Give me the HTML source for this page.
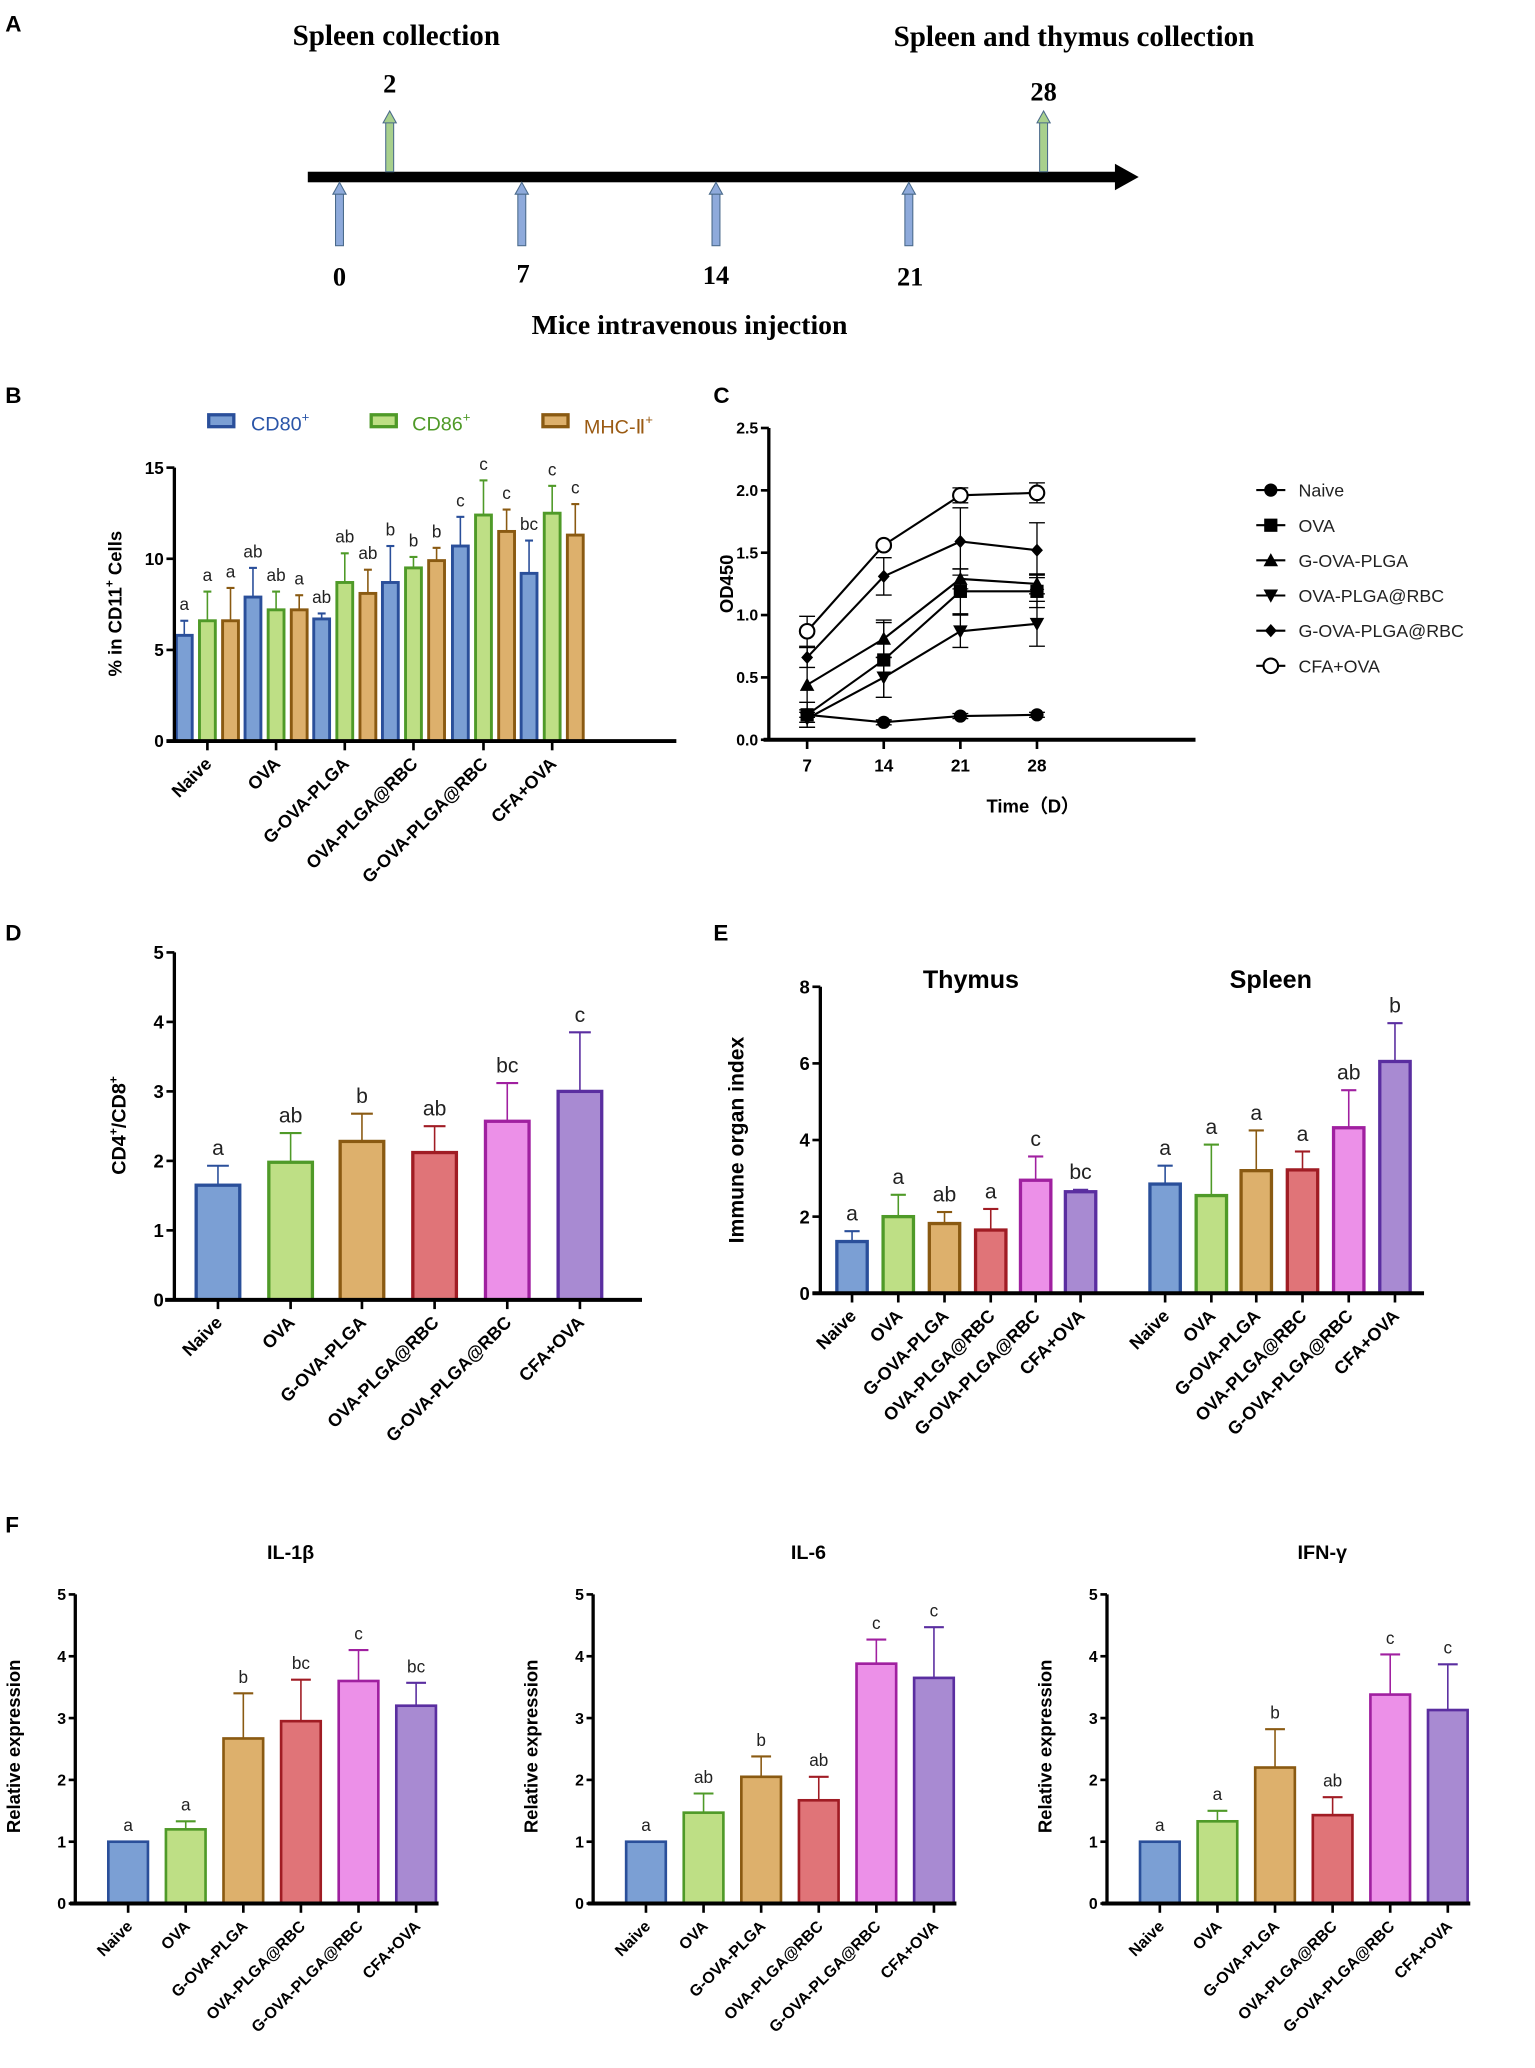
<!DOCTYPE html>
<html><head><meta charset="utf-8">
<style>
html,body{margin:0;padding:0;background:#fff;}
svg{display:block;}
text{font-family:"Liberation Sans",sans-serif;}
.serif{font-family:"Liberation Serif",serif;font-weight:bold;}
</style></head>
<body>
<svg id="fig" xmlns="http://www.w3.org/2000/svg" width="1535" height="2068" viewBox="0 0 1162 1565.5" preserveAspectRatio="none">
<g>
<text x="4" y="24" font-size="17" font-weight="bold">A</text>
<text class="serif" x="300" y="34" font-size="22" text-anchor="middle">Spleen collection</text>
<text class="serif" x="813" y="35" font-size="22" text-anchor="middle">Spleen and thymus collection</text>
<rect x="233" y="130" width="615" height="8" fill="#000"/>
<polygon points="844,124 862,134 844,144" fill="#000"/>
<g><rect x="292" y="92" width="6" height="38" fill="#a8d08d" stroke="#4a6a8a" stroke-width="0.8"/><polygon points="290,93 295,84 300,93" fill="#a8d08d" stroke="#4a6a8a" stroke-width="0.8"/></g>
<text class="serif" x="295" y="70" font-size="20" text-anchor="middle" font-weight="normal">2</text>
<g><rect x="787" y="92" width="6" height="38" fill="#a8d08d" stroke="#4a6a8a" stroke-width="0.8"/><polygon points="785,93 790,84 795,93" fill="#a8d08d" stroke="#4a6a8a" stroke-width="0.8"/></g>
<text class="serif" x="790" y="76" font-size="20" text-anchor="middle">28</text>
<g><rect x="254" y="146" width="6" height="40" fill="#8eaadb" stroke="#4a6a8a" stroke-width="0.8"/><polygon points="252,147 257,138 262,147" fill="#8eaadb" stroke="#4a6a8a" stroke-width="0.8"/></g>
<g><rect x="392" y="146" width="6" height="40" fill="#8eaadb" stroke="#4a6a8a" stroke-width="0.8"/><polygon points="390,147 395,138 400,147" fill="#8eaadb" stroke="#4a6a8a" stroke-width="0.8"/></g>
<g><rect x="539" y="146" width="6" height="40" fill="#8eaadb" stroke="#4a6a8a" stroke-width="0.8"/><polygon points="537,147 542,138 547,147" fill="#8eaadb" stroke="#4a6a8a" stroke-width="0.8"/></g>
<g><rect x="685" y="146" width="6" height="40" fill="#8eaadb" stroke="#4a6a8a" stroke-width="0.8"/><polygon points="683,147 688,138 693,147" fill="#8eaadb" stroke="#4a6a8a" stroke-width="0.8"/></g>
<text class="serif" x="257" y="216" font-size="20" text-anchor="middle">0</text>
<text class="serif" x="396" y="214" font-size="20" text-anchor="middle">7</text>
<text class="serif" x="542" y="215" font-size="20" text-anchor="middle">14</text>
<text class="serif" x="689" y="216" font-size="20" text-anchor="middle">21</text>
<text class="serif" x="522" y="253" font-size="21" text-anchor="middle">Mice intravenous injection</text>
</g>
<text x="4" y="305" font-size="17" font-weight="bold">B</text>
<text x="540" y="305" font-size="17" font-weight="bold">C</text>
<text x="4" y="712" font-size="17" font-weight="bold">D</text>
<text x="540" y="712" font-size="17" font-weight="bold">E</text>
<text x="4" y="1160" font-size="17" font-weight="bold">F</text>
<g>
<rect x="158" y="314" width="19" height="9" fill="#7b9fd4" stroke="#2a4f9a" stroke-width="2.5"/>
<text x="190" y="326" font-size="15" fill="#2a55a8">CD80<tspan font-size="10" dy="-7">+</tspan></text>
<rect x="281" y="314" width="19" height="9" fill="#bedf85" stroke="#4f9a28" stroke-width="2.5"/>
<text x="312" y="326" font-size="15" fill="#4f9a28">CD86<tspan font-size="10" dy="-7">+</tspan></text>
<rect x="411" y="314" width="19" height="9" fill="#ddb06c" stroke="#8a5a12" stroke-width="2.5"/>
<text x="442" y="328" font-size="15" fill="#9a5a12">MHC-Ⅱ<tspan font-size="10" dy="-7">+</tspan></text>
</g>
</svg>
<script>
// ---- Data ----
const groups = ["Naive","OVA","G-OVA-PLGA","OVA-PLGA@RBC","G-OVA-PLGA@RBC","CFA+OVA"];
const bCD80 = [5.8,7.9,6.7,8.7,10.7,9.2];
const bCD80Err = [0.8,1.6,0.3,2.0,1.6,1.8];
const bCD80Let = ["a","ab","ab","b","c","bc"];
const bCD86 = [6.6,7.2,8.7,9.5,12.4,12.5];
const bCD86Err = [1.6,1.0,1.6,0.6,1.9,1.5];
const bCD86Let = ["a","ab","ab","b","c","c"];
const bMHC = [6.6,7.2,8.1,9.9,11.5,11.3];
const bMHCErr = [1.8,0.8,1.3,0.7,1.2,1.7];
const bMHCLet = ["a","a","ab","b","c","c"];
const bTicks = [0,5,10,15];

const cDays = [7,14,21,28];
const cTicks = [0,0.5,1.0,1.5,2.0,2.5];
const cNaive = [0.20,0.14,0.19,0.20];
const cNaiveErr = [0.02,0.02,0.02,0.02];
const cOVA = [0.20,0.64,1.19,1.19];
const cOVAErr = [0.10,0.30,0.18,0.13];
const cGPLGA = [0.44,0.81,1.29,1.25];
const cGPLGAErr = [0.30,0.15,0.08,0.08];
const cRBC = [0.17,0.50,0.87,0.93];
const cRBCErr = [0.07,0.16,0.13,0.18];
const cGRBC = [0.66,1.31,1.59,1.52];
const cGRBCErr = [0.08,0.15,0.27,0.22];
const cCFA = [0.87,1.56,1.96,1.98];
const cCFAErr = [0.12,0.02,0.06,0.08];

const dVals = [1.65,1.98,2.28,2.12,2.57,3.0];
const dErr = [0.28,0.42,0.40,0.38,0.55,0.85];
const dLet = ["a","ab","b","ab","bc","c"];
const dTicks = [0,1,2,3,4,5];

const eThymus = [1.35,2.0,1.82,1.65,2.95,2.65];
const eThymusErr = [0.27,0.57,0.30,0.55,0.62,0.05];
const eThymusLet = ["a","a","ab","a","c","bc"];
const eSpleen = [2.85,2.55,3.2,3.22,4.32,6.05];
const eSpleenErr = [0.48,1.33,1.05,0.48,0.98,1.0];
const eSpleenLet = ["a","a","a","a","ab","b"];
const eTicks = [0,2,4,6,8];

const fIL1 = [1.0,1.2,2.67,2.95,3.6,3.2];
const fIL1Err = [0.0,0.13,0.73,0.67,0.5,0.37];
const fIL1Let = ["a","a","b","bc","c","bc"];
const fIL6 = [1.0,1.47,2.05,1.67,3.88,3.65];
const fIL6Err = [0.0,0.31,0.33,0.38,0.39,0.82];
const fIL6Let = ["a","ab","b","ab","c","c"];
const fIFN = [1.0,1.33,2.2,1.43,3.38,3.13];
const fIFNErr = [0.0,0.17,0.62,0.29,0.65,0.74];
const fIFNLet = ["a","a","b","ab","c","c"];
const fTicks = [0,1,2,3,4,5];

const FILL = ["#7b9fd4","#bedf85","#ddb06c","#e07478","#ec90e8","#a88ad2"];
const STROKE = ["#2a4f9a","#4f9a28","#8a5a12","#a01c24","#a020a0","#5a2ea0"];

const NS = "http://www.w3.org/2000/svg";
const svg = document.getElementById("fig");
function mk(tag, parent, attrs){
  const e = document.createElementNS(NS, tag);
  for (const k in attrs) e.setAttribute(k, attrs[k]);
  parent.appendChild(e);
  return e;
}
function txt(parent, x, y, s, attrs){
  const t = mk("text", parent, Object.assign({x:x, y:y}, attrs));
  t.textContent = s;
  return t;
}
function linScale(d0,d1,r0,r1){ return v => r0 + (v-d0)/(d1-d0)*(r1-r0); }

function yAxis(g, x, y, ticks, fs, fmt, tickLen){
  const ax = mk("line", g, {x1:x, x2:x, y1:y(ticks[0])+1, y2:y(ticks[ticks.length-1]), stroke:"#000","stroke-width":2.5});
  
  
  ticks.forEach(t=>{
    const tk = mk("line", g, {x1:x-tickLen, x2:x, y1:y(t), y2:y(t), stroke:"#000","stroke-width":2});
    
    
    const lb = txt(g, x-tickLen-2, y(t)+fs*0.36, fmt(t), {"font-size":fs,"font-weight":"bold","text-anchor":"end"});
    
    
  });
}
function xAxisBase(g, x0, x1, yy){
  const ax = mk("line", g, {x1:x0, x2:x1, y1:yy, y2:yy, stroke:"#000","stroke-width":3});
  
  
}
function xCatLabel(g, cx, yy, s, fs, italic){
  const tk = mk("line", g, {x1:cx, x2:cx, y1:yy, y2:yy+7, stroke:"#000","stroke-width":2});
  
  
  const t = txt(g, cx+4, yy+18, s, {"font-size":fs,"font-weight":"bold","text-anchor":"end",transform:`rotate(-45 ${cx+4} ${yy+18})`});
  if (italic) t.setAttribute("font-style","italic");
  
  
}
function yTitle(g, x, cy, s, fs){
  const t = txt(g, x, cy, s, {"font-size":fs,"font-weight":"bold","text-anchor":"middle",transform:`rotate(-90 ${x} ${cy})`});
  
  
  return t;
}
function bar(g, cx, w, v, err, y, fill, stroke, letter, lfs, sw){
  const top = y(v), base = y(0);
  const eb = mk("g", g, {});
  
  
  if (err > 0){
    mk("line", eb, {x1:cx, x2:cx, y1:top, y2:y(v+err), stroke:stroke, "stroke-width":1.2});
    mk("line", eb, {x1:cx-w*0.25, x2:cx+w*0.25, y1:y(v+err), y2:y(v+err), stroke:stroke, "stroke-width":1.6});
  }
  const r = mk("rect", g, {x:cx-w/2, y:top, width:w, height:base-top, fill:fill, stroke:stroke, "stroke-width":sw});
  
  
  if (letter){
    const t = txt(g, cx, y(v+err)-8, letter, {"font-size":lfs,"text-anchor":"middle",fill:"#222"});
    
    
  }
}

// ---- Panel B ----
(function(){
  const g = mk("g", svg, {});
  
  
  const y = linScale(0,15,561,354);
  const centers = [157,209,261,313,366,418];
  const series = [[bCD80,bCD80Err,bCD80Let],[bCD86,bCD86Err,bCD86Let],[bMHC,bMHCErr,bMHCLet]];
  const off = [-17.5,0,17.5];
  series.forEach((s,si)=>{
    s[0].forEach((v,i)=>{
      bar(g, centers[i]+off[si], 12, v, s[1][i], y, FILL[si], STROKE[si], s[2][i], 13, 2.2);
    });
  });
  yAxis(g, 132, y, bTicks, 13, t=>String(t), 6);
  xAxisBase(g, 126, 512, 561);
  groups.forEach((s,i)=>xCatLabel(g, centers[i], 561, s, 13.5, false));
  const yt = yTitle(g, 92, 457, "% in CD11", 14);
  const sup = mk("tspan", yt, {"font-size":9, dy:-6}); sup.textContent = "+";
  const rest = mk("tspan", yt, {dy:6}); rest.textContent = " Cells";
})();

// ---- Panel C ----
(function(){
  const g = mk("g", svg, {});
  
  
  const y = linScale(0,2.5,560,324);
  const x = linScale(7,28,611,785);
  yAxis(g, 582, y, cTicks, 12, t=>t.toFixed(1), 6);
  xAxisBase(g, 578, 905, 560);
  cDays.forEach(d=>{
    const tk = mk("line", g, {x1:x(d), x2:x(d), y1:560, y2:567, stroke:"#000","stroke-width":2});
    
    
    const lb = txt(g, x(d), 584, String(d), {"font-size":13,"font-weight":"bold","text-anchor":"middle"});
    
    
  });
  const xt = txt(g, 782, 615, "Time（D）", {"font-size":14,"font-weight":"bold","text-anchor":"middle"});
  xt.setAttribute("font-family", '"Liberation Sans","Noto Sans CJK SC",sans-serif');
  
  
  yTitle(g, 555, 442, "OD450", 14);
  const names = ["Naive","OVA","G-OVA-PLGA","OVA-PLGA@RBC","G-OVA-PLGA@RBC","CFA+OVA"];
  const vals = [cNaive,cOVA,cGPLGA,cRBC,cGRBC,cCFA];
  const errs = [cNaiveErr,cOVAErr,cGPLGAErr,cRBCErr,cGRBCErr,cCFAErr];
  const shapes = ["circle","square","tri","tridown","diamond","ocircle"];
  function marker(p, mx, my, sh){
    let m;
    if (sh==="circle") m = mk("circle", p, {cx:mx, cy:my, r:5, fill:"#000"});
    else if (sh==="ocircle") m = mk("circle", p, {cx:mx, cy:my, r:5.5, fill:"#fff", stroke:"#000","stroke-width":1.6});
    else if (sh==="square") m = mk("rect", p, {x:mx-5, y:my-5, width:10, height:10, fill:"#000"});
    else if (sh==="tri") m = mk("polygon", p, {points:`${mx-5.5},${my+4.5} ${mx+5.5},${my+4.5} ${mx},${my-5.5}`, fill:"#000"});
    else if (sh==="tridown") m = mk("polygon", p, {points:`${mx-5.5},${my-4.5} ${mx+5.5},${my-4.5} ${mx},${my+5.5}`, fill:"#000"});
    else m = mk("polygon", p, {points:`${mx},${my-5} ${mx+4.5},${my} ${mx},${my+5} ${mx-4.5},${my}`, fill:"#000"});
    
    
  }
  vals.forEach((vs,si)=>{
    const sg = mk("g", g, {});
    
    
    const pts = vs.map((v,i)=>`${x(cDays[i])},${y(v)}`).join(" ");
    const pl = mk("polyline", sg, {points:pts, fill:"none", stroke:"#000","stroke-width":1.6});
    
    
    vs.forEach((v,i)=>{
      const e = errs[si][i], xx = x(cDays[i]);
      const eb = mk("g", sg, {stroke:"#000","stroke-width":1});
      
      
      mk("line", eb, {x1:xx, x2:xx, y1:y(v-e), y2:y(v+e)});
      mk("line", eb, {x1:xx-6, x2:xx+6, y1:y(v-e), y2:y(v-e)});
      mk("line", eb, {x1:xx-6, x2:xx+6, y1:y(v+e), y2:y(v+e)});
      marker(sg, xx, y(v), shapes[si]);
    });
    const ly = 371 + si*26.6;
    const le = mk("g", g, {});
    
    
    mk("line", le, {x1:951, x2:973, y1:ly, y2:ly, stroke:"#000","stroke-width":1.6});
    marker(le, 962, ly, shapes[si]);
    txt(le, 983, ly+5, names[si], {"font-size":13.5, fill:"#222"});
  });
})();

// ---- Panel D ----
(function(){
  const g = mk("g", svg, {});
  
  
  const y = linScale(0,5,984,721);
  const centers = [165,220,274,329,384,439];
  dVals.forEach((v,i)=>bar(g, centers[i], 33, v, dErr[i], y, FILL[i], STROKE[i], dLet[i], 16, 2.5));
  yAxis(g, 132, y, dTicks, 14, t=>String(t), 6);
  xAxisBase(g, 125, 486, 984);
  groups.forEach((s,i)=>xCatLabel(g, centers[i], 984, s, 13.5, false));
  const yt = yTitle(g, 95, 852, "CD4", 15);
  const s1 = mk("tspan", yt, {"font-size":9, dy:-6}); s1.textContent = "+";
  const s2 = mk("tspan", yt, {dy:6}); s2.textContent = "/CD8";
  const s3 = mk("tspan", yt, {"font-size":9, dy:-6}); s3.textContent = "+";
})();

// ---- Panel E ----
(function(){
  const g = mk("g", svg, {});
  
  
  const y = linScale(0,8,979,747);
  const cT = [645,680,715,750,784,818];
  const cS = [882,917,951,986,1021,1056];
  eThymus.forEach((v,i)=>bar(g, cT[i], 23, v, eThymusErr[i], y, FILL[i], STROKE[i], eThymusLet[i], 16, 2.5));
  eSpleen.forEach((v,i)=>bar(g, cS[i], 23, v, eSpleenErr[i], y, FILL[i], STROKE[i], eSpleenLet[i], 16, 2.5));
  yAxis(g, 621, y, eTicks, 14, t=>String(t), 6);
  xAxisBase(g, 615, 1078, 979);
  groups.forEach((s,i)=>xCatLabel(g, cT[i], 979, s, 13.5, false));
  groups.forEach((s,i)=>xCatLabel(g, cS[i], 979, s, 13.5, false));
  const t1 = txt(g, 735, 748, "Thymus", {"font-size":19,"font-weight":"bold","text-anchor":"middle"});
  
  
  const t2 = txt(g, 962, 748, "Spleen", {"font-size":19,"font-weight":"bold","text-anchor":"middle"});
  
  
  yTitle(g, 563, 863, "Immune organ index", 16);
})();

// ---- Panel F ----
function fChart(ax, title, vals, errs, lets){
  const g = mk("g", svg, {});
  
  
  const y = linScale(0,5,1441,1207);
  const centers = vals.map((v,i)=>ax+40+i*43.6);
  vals.forEach((v,i)=>bar(g, centers[i], 30, v, errs[i], y, FILL[i], STROKE[i], lets[i], 13, 2));
  yAxis(g, ax, y, fTicks, 12, t=>String(t), 5);
  xAxisBase(g, ax-4, ax+275, 1441);
  groups.forEach((s,i)=>xCatLabel(g, centers[i], 1441, s, 12, false));
  const t = txt(g, ax+163, 1180, title, {"font-size":15,"font-weight":"bold","text-anchor":"middle"});
  
  
  yTitle(g, ax-42, 1322, "Relative expression", 14);
}
fChart(57, "IL-1β", fIL1, fIL1Err, fIL1Let);
fChart(449, "IL-6", fIL6, fIL6Err, fIL6Let);
fChart(838, "IFN-γ", fIFN, fIFNErr, fIFNLet);
</script>
</body></html>
